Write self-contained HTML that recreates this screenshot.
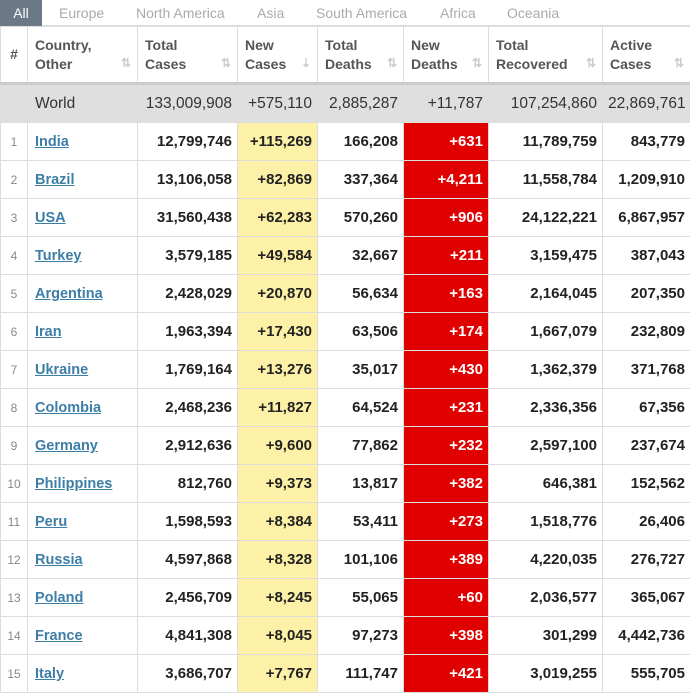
<!DOCTYPE html>
<html><head><meta charset="utf-8"><style>
body{margin:0;width:690px;height:690px;overflow:hidden;background:#fff;font-family:"Liberation Sans",Arial,sans-serif;}
.tabs{height:26px;position:relative;border-bottom:1px solid #ddd;box-sizing:border-box;}
.tabs span{position:absolute;top:5px;font-size:14px;color:#aaa;}
.tabs .all{left:0;top:0;width:42px;height:26px;background:#6b7885;color:#fff;text-align:center;line-height:26px;}
table{border-collapse:collapse;table-layout:fixed;width:690px;position:absolute;top:26px;left:0;}
td,th{border:1px solid #ddd;padding:0 5px;font-size:15px;overflow:hidden;white-space:nowrap;}
th{height:55px;text-align:left;font-size:14px;color:#555;font-weight:bold;line-height:19px;vertical-align:middle;border-bottom:3px solid #ccc;position:relative;padding-left:7px;}
th .s{position:absolute;right:6px;bottom:9px;color:#ccc;font-size:12px;}
tr.r td{height:37px;text-align:right;font-weight:bold;color:#222;}
tr.w td{height:37px;background:#dfdfdf;text-align:right;font-size:15.5px;color:#333;}
td.n{text-align:center!important;font-size:12px!important;color:#888!important;font-weight:normal!important;}
td.c{text-align:left!important;padding-left:7px;}
td.c a{color:#3d7ea6;text-decoration:underline;font-weight:bold;font-size:14.5px;}
td.y{background:#fcf1a6;}
td.d{background:#e00000;color:#fff!important;}
</style></head><body>
<div class="tabs"><span class="all">All</span><span style="left:59px">Europe</span><span style="left:136px">North America</span><span style="left:257px">Asia</span><span style="left:316px">South America</span><span style="left:440px">Africa</span><span style="left:507px">Oceania</span></div>
<table>
<colgroup><col style="width:27px"><col style="width:110px"><col style="width:100px"><col style="width:80px"><col style="width:86px"><col style="width:85px"><col style="width:114px"><col style="width:88px"></colgroup>
<tr><th style="text-align:center;padding:0">#</th><th>Country,<br>Other<span class="s">⇅</span></th><th>Total<br>Cases<span class="s">⇅</span></th><th>New<br>Cases<span class="s">⇣</span></th><th>Total<br>Deaths<span class="s">⇅</span></th><th>New<br>Deaths<span class="s">⇅</span></th><th>Total<br>Recovered<span class="s">⇅</span></th><th>Active<br>Cases<span class="s">⇅</span></th></tr>
<tr class="w"><td></td><td style="text-align:left;padding-left:7px">World</td><td>133,009,908</td><td>+575,110</td><td>2,885,287</td><td>+11,787</td><td>107,254,860</td><td>22,869,761</td></tr>
<tr class="r"><td class="n">1</td><td class="c"><a>India</a></td><td>12,799,746</td><td class="y">+115,269</td><td>166,208</td><td class="d">+631</td><td>11,789,759</td><td>843,779</td></tr>
<tr class="r"><td class="n">2</td><td class="c"><a>Brazil</a></td><td>13,106,058</td><td class="y">+82,869</td><td>337,364</td><td class="d">+4,211</td><td>11,558,784</td><td>1,209,910</td></tr>
<tr class="r"><td class="n">3</td><td class="c"><a>USA</a></td><td>31,560,438</td><td class="y">+62,283</td><td>570,260</td><td class="d">+906</td><td>24,122,221</td><td>6,867,957</td></tr>
<tr class="r"><td class="n">4</td><td class="c"><a>Turkey</a></td><td>3,579,185</td><td class="y">+49,584</td><td>32,667</td><td class="d">+211</td><td>3,159,475</td><td>387,043</td></tr>
<tr class="r"><td class="n">5</td><td class="c"><a>Argentina</a></td><td>2,428,029</td><td class="y">+20,870</td><td>56,634</td><td class="d">+163</td><td>2,164,045</td><td>207,350</td></tr>
<tr class="r"><td class="n">6</td><td class="c"><a>Iran</a></td><td>1,963,394</td><td class="y">+17,430</td><td>63,506</td><td class="d">+174</td><td>1,667,079</td><td>232,809</td></tr>
<tr class="r"><td class="n">7</td><td class="c"><a>Ukraine</a></td><td>1,769,164</td><td class="y">+13,276</td><td>35,017</td><td class="d">+430</td><td>1,362,379</td><td>371,768</td></tr>
<tr class="r"><td class="n">8</td><td class="c"><a>Colombia</a></td><td>2,468,236</td><td class="y">+11,827</td><td>64,524</td><td class="d">+231</td><td>2,336,356</td><td>67,356</td></tr>
<tr class="r"><td class="n">9</td><td class="c"><a>Germany</a></td><td>2,912,636</td><td class="y">+9,600</td><td>77,862</td><td class="d">+232</td><td>2,597,100</td><td>237,674</td></tr>
<tr class="r"><td class="n">10</td><td class="c"><a>Philippines</a></td><td>812,760</td><td class="y">+9,373</td><td>13,817</td><td class="d">+382</td><td>646,381</td><td>152,562</td></tr>
<tr class="r"><td class="n">11</td><td class="c"><a>Peru</a></td><td>1,598,593</td><td class="y">+8,384</td><td>53,411</td><td class="d">+273</td><td>1,518,776</td><td>26,406</td></tr>
<tr class="r"><td class="n">12</td><td class="c"><a>Russia</a></td><td>4,597,868</td><td class="y">+8,328</td><td>101,106</td><td class="d">+389</td><td>4,220,035</td><td>276,727</td></tr>
<tr class="r"><td class="n">13</td><td class="c"><a>Poland</a></td><td>2,456,709</td><td class="y">+8,245</td><td>55,065</td><td class="d">+60</td><td>2,036,577</td><td>365,067</td></tr>
<tr class="r"><td class="n">14</td><td class="c"><a>France</a></td><td>4,841,308</td><td class="y">+8,045</td><td>97,273</td><td class="d">+398</td><td>301,299</td><td>4,442,736</td></tr>
<tr class="r"><td class="n">15</td><td class="c"><a>Italy</a></td><td>3,686,707</td><td class="y">+7,767</td><td>111,747</td><td class="d">+421</td><td>3,019,255</td><td>555,705</td></tr>
</table>
</body></html>
